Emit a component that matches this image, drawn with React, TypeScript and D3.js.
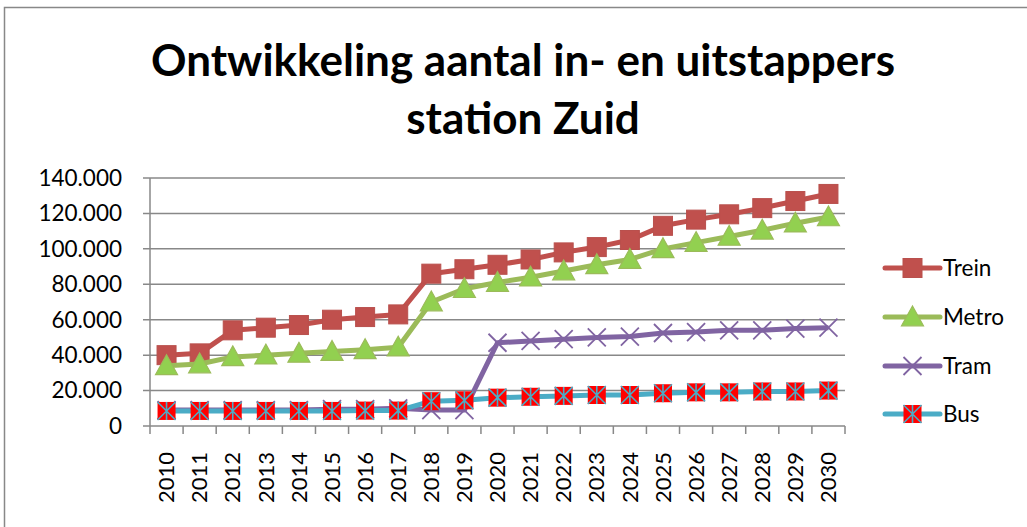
import React from 'react';
import * as d3 from 'd3';

// Jaren op de x-as
const years = ['2010', '2011', '2012', '2013', '2014', '2015', '2016', '2017', '2018', '2019', '2020',
  '2021', '2022', '2023', '2024', '2025', '2026', '2027', '2028', '2029', '2030'];

// Reeksen (aantal in- en uitstappers)
const trein = [40000, 41000, 54000, 55500, 57000, 60000, 61500, 63000, 86000, 88500, 91000,
  94000, 98000, 101000, 105000, 113000, 116500, 119500, 123000, 127000, 131000];
const metro = [34000, 35000, 39000, 40000, 41000, 42000, 43000, 44500, 70000, 77500, 81000,
  84000, 87500, 91000, 94000, 100000, 103500, 107000, 110500, 114500, 118000];
const tram = [9000, 9000, 9000, 9000, 9000, 9500, 9500, 10000, 9000, 9000, 47000,
  48000, 49000, 50000, 50500, 52500, 53000, 54000, 54000, 55000, 55500];
const bus = [8500, 8500, 8500, 8500, 8500, 8500, 8700, 8700, 14000, 14500, 16000,
  16500, 17000, 17500, 17500, 18500, 19000, 19000, 19500, 19500, 20000];

const yTicks = [0, 20000, 40000, 60000, 80000, 100000, 120000, 140000];

const seriesList = [
  { name: 'Trein', values: trein, color: '#C0504D', marker: 'square' },
  { name: 'Metro', values: metro, color: '#9BBB59', marker: 'triangle' },
  { name: 'Tram', values: tram, color: '#8064A2', marker: 'x' },
  { name: 'Bus', values: bus, color: '#4BACC6', marker: 'star' },
];

const W = 1027;
const H = 527;
const plot = { left: 150, right: 845, top: 178, bottom: 426 };
const font = 'Lato, "Open Sans", sans-serif';

const fmt = (v: number) => (v === 0 ? '0' : d3.format(',')(v).replace(/,/g, '.'));

function Marker({ type, cx, cy, color }: { type: string; cx: number; cy: number; color: string }) {
  if (type === 'square') {
    return <rect x={cx - 9.5} y={cy - 9.5} width={19} height={19} fill="#C0504D" stroke="#B9504D" strokeWidth={1} />;
  }
  if (type === 'triangle') {
    const s = 11;
    return (
      <path
        d={`M${cx},${cy - s} L${cx + s},${cy + s * 0.8} L${cx - s},${cy + s * 0.8} Z`}
        fill="#92D050" stroke="#9BBB59" strokeWidth={1.2}
      />
    );
  }
  if (type === 'x') {
    const s = 9;
    return (
      <path d={`M${cx - s},${cy - s} L${cx + s},${cy + s} M${cx - s},${cy + s} L${cx + s},${cy - s}`}
        stroke={color} strokeWidth={1.8} fill="none" />
    );
  }
  const s = 9;
  return (
    <g>
      <rect x={cx - s} y={cy - s} width={2 * s} height={2 * s} fill="#FF0000" />
      <path d={`M${cx - s},${cy - s} L${cx + s},${cy + s} M${cx - s},${cy + s} L${cx + s},${cy - s} M${cx},${cy - s} L${cx},${cy + s}`}
        stroke={color} strokeWidth={1.6} fill="none" />
    </g>
  );
}

export default function App() {
  const x = d3.scaleBand<string>().domain(years).range([plot.left, plot.right]);
  const y = d3.scaleLinear().domain([0, 140000]).range([plot.bottom, plot.top]);
  const cx = (yr: string) => (x(yr) ?? 0) + x.bandwidth() / 2;

  const line = d3.line<number>()
    .x((_, i) => cx(years[i]))
    .y((d) => y(d));

  const legendX = 885;
  const legendY = [268, 317, 366, 414];

  return (
    <div style={{ position: 'fixed', left: 0, top: 0 }}>
      <svg width={W} height={H} style={{ display: 'block', background: '#fff' }}>
        {/* kader: alleen links en boven zichtbaar */}
        <path d={`M4.5,${H} L4.5,7.5 L${W},7.5`} fill="none" stroke="#888" strokeWidth={1.5} />

        <text x={523} y={76} textAnchor="middle" fontFamily={font} fontWeight="bold" fontSize={44} fill="#000">
          Ontwikkeling aantal in- en uitstappers
        </text>
        <text x={523} y={134} textAnchor="middle" fontFamily={font} fontWeight="bold" fontSize={44} fill="#000">
          station Zuid
        </text>

        {/* rasterlijnen en y-as */}
        {yTicks.map((t) => (
          <g key={t}>
            <line x1={plot.left - 7} x2={plot.right} y1={y(t)} y2={y(t)}
              stroke="#888" strokeWidth={1.5} />
            <text x={122} y={y(t)} dy="0.35em" textAnchor="end" fontFamily={font} fontSize={22.5} fill="#000">
              {fmt(t)}
            </text>
          </g>
        ))}
        <line x1={plot.left} x2={plot.left} y1={plot.top} y2={plot.bottom} stroke="#888" strokeWidth={1.5} />

        {/* x-as */}
        {years.map((yr, i) => (
          <g key={yr}>
            <line x1={(x(yr) ?? 0)} x2={(x(yr) ?? 0)} y1={plot.bottom} y2={plot.bottom + 8} stroke="#888" strokeWidth={1.5} />
            {i === years.length - 1 && (
              <line x1={plot.right} x2={plot.right} y1={plot.bottom} y2={plot.bottom + 8} stroke="#888" strokeWidth={1.5} />
            )}
            <text transform={`translate(${cx(yr)},${plot.bottom + 26}) rotate(-90)`} dy="0.35em" textAnchor="end"
              fontFamily={font} fontSize={22} fill="#000">
              {yr}
            </text>
          </g>
        ))}

        {/* reeksen */}
        {seriesList.map((s) => (
          <g key={s.name}>
            <path d={line(s.values) ?? ''} fill="none" stroke={s.color} strokeWidth={5} strokeLinejoin="round" />
            {s.values.map((v, i) => (
              <Marker key={i} type={s.marker} cx={cx(years[i])} cy={y(v)} color={s.color} />
            ))}
          </g>
        ))}

        {/* legenda */}
        {seriesList.map((s, i) => (
          <g key={s.name}>
            <line x1={legendX} x2={legendX + 55} y1={legendY[i]} y2={legendY[i]} stroke={s.color} strokeWidth={5} strokeLinecap="round" />
            <Marker type={s.marker} cx={legendX + 27.5} cy={legendY[i]} color={s.color} />
            <text x={legendX + 58} y={legendY[i]} dy="0.35em" fontFamily={font} fontSize={22.5} fill="#000">{s.name}</text>
          </g>
        ))}
      </svg>
    </div>
  );
}
